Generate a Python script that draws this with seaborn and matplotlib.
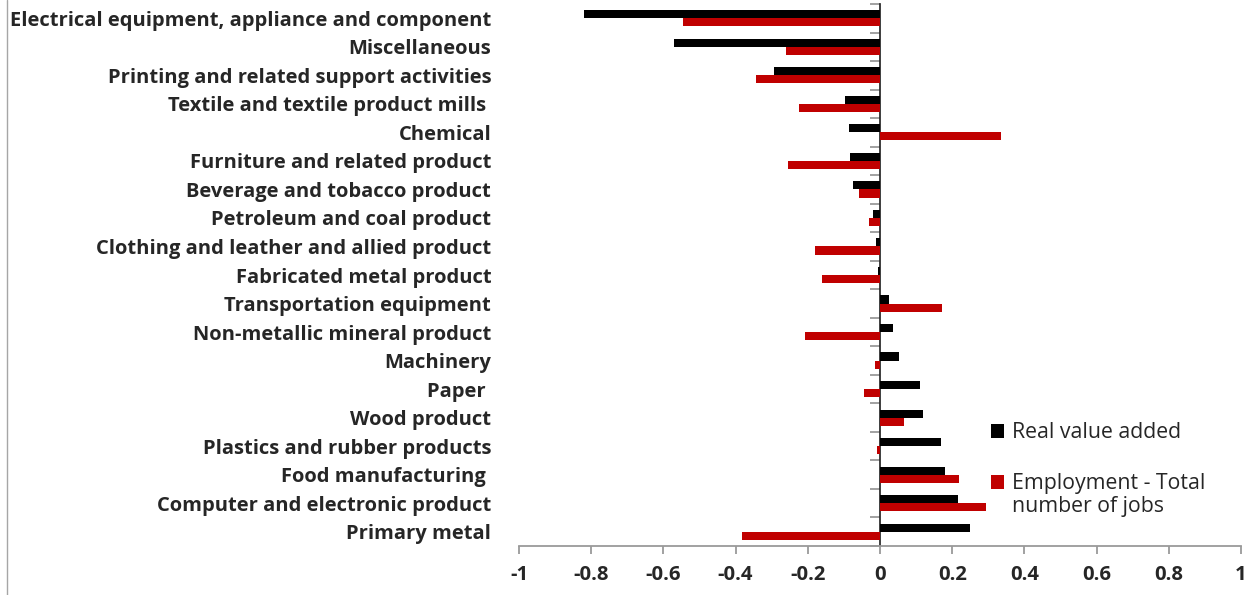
import numpy as np
import pandas as pd
import matplotlib
matplotlib.use("Agg")
import matplotlib.pyplot as plt
import seaborn as sns
from matplotlib.patches import Patch
from matplotlib.lines import Line2D

# Manufacturing industries, top to bottom
industries = [
    "Electrical equipment, appliance and component",
    "Miscellaneous",
    "Printing and related support activities",
    "Textile and textile product mills ",
    "Chemical",
    "Furniture and related product",
    "Beverage and tobacco product",
    "Petroleum and coal product",
    "Clothing and leather and allied product",
    "Fabricated metal product",
    "Transportation equipment",
    "Non-metallic mineral product",
    "Machinery",
    "Paper ",
    "Wood product",
    "Plastics and rubber products",
    "Food manufacturing ",
    "Computer and electronic product",
    "Primary metal",
]

real_value_added = [
    -0.820, -0.570, -0.293, -0.096, -0.087, -0.082, -0.075, -0.020, -0.011,
    -0.005, 0.024, 0.037, 0.053, 0.111, 0.118, 0.169, 0.179, 0.215, 0.250,
]
employment_jobs = [
    -0.545, -0.260, -0.344, -0.225, 0.335, -0.255, -0.058, -0.030, -0.181,
    -0.162, 0.172, -0.207, -0.014, -0.043, 0.066, -0.008, 0.218, 0.295, -0.382,
]

series_names = ["Real value added", "Employment - Total number of jobs"]
series_colors = ["#000000", "#C00000"]
x_ticks = [-1, -0.8, -0.6, -0.4, -0.2, 0, 0.2, 0.4, 0.6, 0.8, 1]
x_tick_labels = ["-1", "-0.8", "-0.6", "-0.4", "-0.2", "0", "0.2", "0.4", "0.6", "0.8", "1"]

df = pd.concat([
    pd.DataFrame({"industry": industries, "value": real_value_added, "series": series_names[0]}),
    pd.DataFrame({"industry": industries, "value": employment_jobs, "series": series_names[1]}),
])

sns.set_theme(style="white")
plt.rcParams["font.family"] = ["Open Sans", "DejaVu Sans"]

axis_grey = "#9a9a9a"
W, H = 1259, 595

fig = plt.figure(figsize=(W / 100, H / 100), dpi=100)
ax = fig.add_axes([519 / W, 1 - 546 / H, 722 / W, 542 / H])

sns.barplot(
    data=df, y="industry", x="value", hue="series",
    order=industries, hue_order=series_names,
    palette=series_colors, saturation=1, width=0.57, gap=0,
    orient="h", errorbar=None, legend=False, linewidth=0, ax=ax,
)

n = len(industries)
ax.set_xlim(-1, 1)
ax.set_ylim(n - 0.5, -0.5)
ax.set_xlabel("")
ax.set_ylabel("")

for side in ["top", "right", "left"]:
    ax.spines[side].set_visible(False)
ax.spines["bottom"].set_color(axis_grey)
ax.spines["bottom"].set_linewidth(1.3)

ax.set_xticks(x_ticks)
ax.set_xticklabels(x_tick_labels, fontsize=14.6, fontweight="bold")
ax.tick_params(axis="x", direction="out", length=6, width=1.3, color=axis_grey, pad=8, bottom=True)

ax.set_yticks(range(n))
ax.set_yticklabels(industries, fontsize=14.5, fontweight="bold")
ax.tick_params(axis="y", length=0, pad=20)

# Category axis drawn at x = 0 with ticks between groups
zero_pos = (0 - (-1)) / 2
sec = ax.secondary_yaxis(zero_pos)
sec.set_yticks(np.arange(n + 1) - 0.5)
sec.set_yticklabels([])
sec.tick_params(axis="y", direction="in", length=7, width=1.3, color=axis_grey)
sec.spines["left"].set_color(axis_grey)
sec.spines["left"].set_linewidth(1.3)

# Legend: first series on its own, second series wrapped over two lines
leg_kw = dict(frameon=False, handlelength=0.6, handleheight=0.6, handletextpad=0.38,
              borderpad=0, borderaxespad=0, prop={"size": 15.3, "family": "Open Sans"},
              bbox_transform=fig.transFigure, loc="center left")
leg1 = ax.legend([Patch(facecolor=series_colors[0], edgecolor="none")], ["Real value added"],
                 bbox_to_anchor=(991 / W, 1 - 433 / H), **leg_kw)
ax.add_artist(leg1)
ax.legend([Patch(facecolor=series_colors[1], edgecolor="none"),
           Patch(facecolor="none", edgecolor="none")],
          ["Employment - Total", "number of jobs"], labelspacing=0.05,
          bbox_to_anchor=(991 / W, 1 - 495 / H), **leg_kw)

fig.add_artist(Line2D([7 / W, 7 / W], [0, 1], transform=fig.transFigure,
                      color="#a6a6a6", linewidth=1))

fig.savefig("out.png", dpi=100, facecolor="white")
